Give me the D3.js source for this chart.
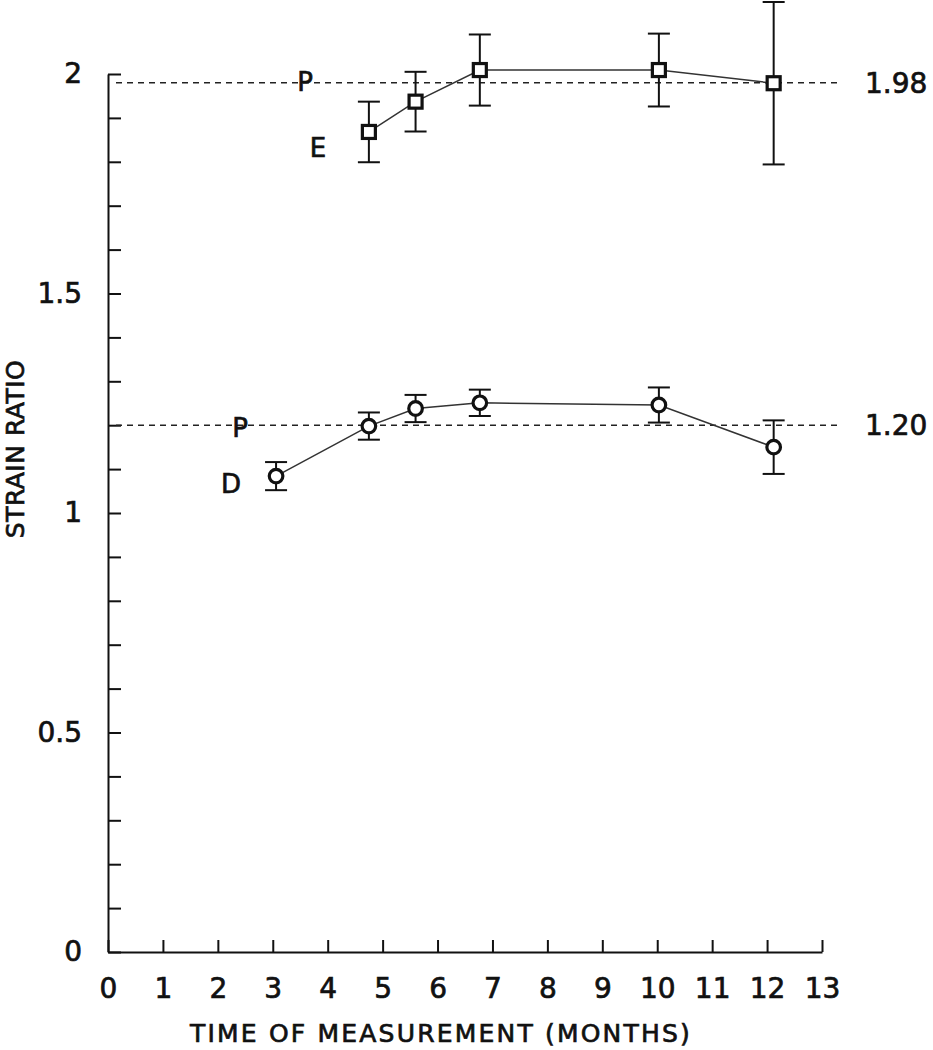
<!DOCTYPE html>
<html>
<head>
<meta charset="utf-8">
<script src="https://cdn.jsdelivr.net/npm/d3@7"></script>
<style>
  body { margin: 0; background: #fff; }
  text { font-family: "DejaVu Sans", sans-serif; fill: #111; stroke: #111; stroke-width: 0.7px; }
</style>
</head>
<body>
<div id="chart"></div>
<script>
// E series (squares) and D series (circles)
const eMonths = [4.75, 5.6, 6.77, 10.03, 12.12];
const eRatio  = [1.868, 1.937, 2.009, 2.009, 1.979];
const eErr    = [0.069, 0.068, 0.081, 0.083, 0.185];

const dMonths = [3.06, 4.75, 5.6, 6.77, 10.03, 12.12];
const dRatio  = [1.084, 1.198, 1.238, 1.251, 1.246, 1.150];
const dErr    = [0.032, 0.031, 0.031, 0.030, 0.040, 0.061];

// plateau reference lines (P)
const refValues = [1.98, 1.20];
const refLabels = ["1.98", "1.20"];

const xTicks = d3.range(0, 14);
const yTicks = d3.range(0, 21).map(i => +(i * 0.1).toFixed(1));

const width = 933, height = 1050;

const svg = d3.select("#chart").append("svg")
    .attr("width", width)
    .attr("height", height);

const x = d3.scaleLinear().domain([0, 13]).range([108, 822]);
const y = d3.scaleLinear().domain([0, 2]).range([952, 74]);

// axes
const xAxis = svg.append("g")
    .attr("transform", `translate(0,${y(0)})`)
    .call(d3.axisBottom(x).tickValues(xTicks).tickSizeInner(-12).tickSizeOuter(0).tickPadding(26));

const yAxis = svg.append("g")
    .attr("transform", `translate(${x(0)},0)`)
    .call(d3.axisLeft(y).tickValues(yTicks).tickSizeInner(-13).tickSizeOuter(0).tickPadding(26)
        .tickFormat(d => (Math.round(d * 10) % 5 === 0) ? String(d) : ""));

[xAxis, yAxis].forEach(g => {
    g.select(".domain").attr("stroke", "#111").attr("stroke-width", 2);
    g.selectAll(".tick line").attr("stroke", "#111").attr("stroke-width", 2);
    g.selectAll(".tick text").style("font-size", "28px").attr("fill", "#111");
});

// axis titles
svg.append("text")
    .attr("x", 441).attr("y", 1042)
    .attr("text-anchor", "middle")
    .style("font-size", "25px")
    .style("letter-spacing", "2.2px")
    .text("TIME OF MEASUREMENT (MONTHS)");

svg.append("text")
    .attr("transform", "translate(24,449) rotate(-90)")
    .attr("text-anchor", "middle")
    .style("font-size", "25px")
    .style("letter-spacing", "0.5px")
    .text("STRAIN RATIO");

// dashed reference lines
svg.append("g").selectAll("line")
    .data(refValues)
    .join("line")
    .attr("x1", x(0) + 8).attr("x2", x(13) + 16)
    .attr("y1", d => y(d)).attr("y2", d => y(d))
    .attr("stroke", "#222")
    .attr("stroke-width", 1.6)
    .attr("stroke-dasharray", "6,5");

svg.append("g").selectAll("text")
    .data(refValues)
    .join("text")
    .attr("x", 865)
    .attr("y", d => y(d) + 10)
    .style("font-size", "28px")
    .text((d, i) => refLabels[i]);

// series
function drawSeries(months, ratio, err, shape) {
    const pts = months.map((m, i) => ({ m: m, v: ratio[i], e: err[i] }));
    const g = svg.append("g");

    g.append("path")
        .datum(pts)
        .attr("fill", "none")
        .attr("stroke", "#333")
        .attr("stroke-width", 1.5)
        .attr("d", d3.line().x(d => x(d.m)).y(d => y(d.v)));

    const bars = g.selectAll(".err").data(pts).join("g")
        .attr("stroke", "#111").attr("stroke-width", 2);
    bars.append("line")
        .attr("x1", d => x(d.m)).attr("x2", d => x(d.m))
        .attr("y1", d => y(d.v + d.e)).attr("y2", d => y(d.v - d.e));
    bars.append("line")
        .attr("x1", d => x(d.m) - 11).attr("x2", d => x(d.m) + 11)
        .attr("y1", d => y(d.v + d.e)).attr("y2", d => y(d.v + d.e));
    bars.append("line")
        .attr("x1", d => x(d.m) - 11).attr("x2", d => x(d.m) + 11)
        .attr("y1", d => y(d.v - d.e)).attr("y2", d => y(d.v - d.e));

    if (shape === "square") {
        g.selectAll("rect").data(pts).join("rect")
            .attr("x", d => x(d.m) - 6.5).attr("y", d => y(d.v) - 6.5)
            .attr("width", 13).attr("height", 13)
            .attr("fill", "#fff").attr("stroke", "#111").attr("stroke-width", 3.2);
    } else {
        g.selectAll("circle").data(pts).join("circle")
            .attr("cx", d => x(d.m)).attr("cy", d => y(d.v))
            .attr("r", 6.8)
            .attr("fill", "#fff").attr("stroke", "#111").attr("stroke-width", 3.2);
    }
}

drawSeries(eMonths, eRatio, eErr, "square");
drawSeries(dMonths, dRatio, dErr, "circle");

// point labels
const letters = [
    { t: "P", x: 305, y: 91 },
    { t: "E", x: 318, y: 157 },
    { t: "P", x: 240, y: 437 },
    { t: "D", x: 231, y: 493 }
];
svg.append("g").selectAll("text")
    .data(letters)
    .join("text")
    .attr("x", d => d.x).attr("y", d => d.y)
    .attr("text-anchor", "middle")
    .style("font-size", "26px")
    .text(d => d.t);
</script>
</body>
</html>
